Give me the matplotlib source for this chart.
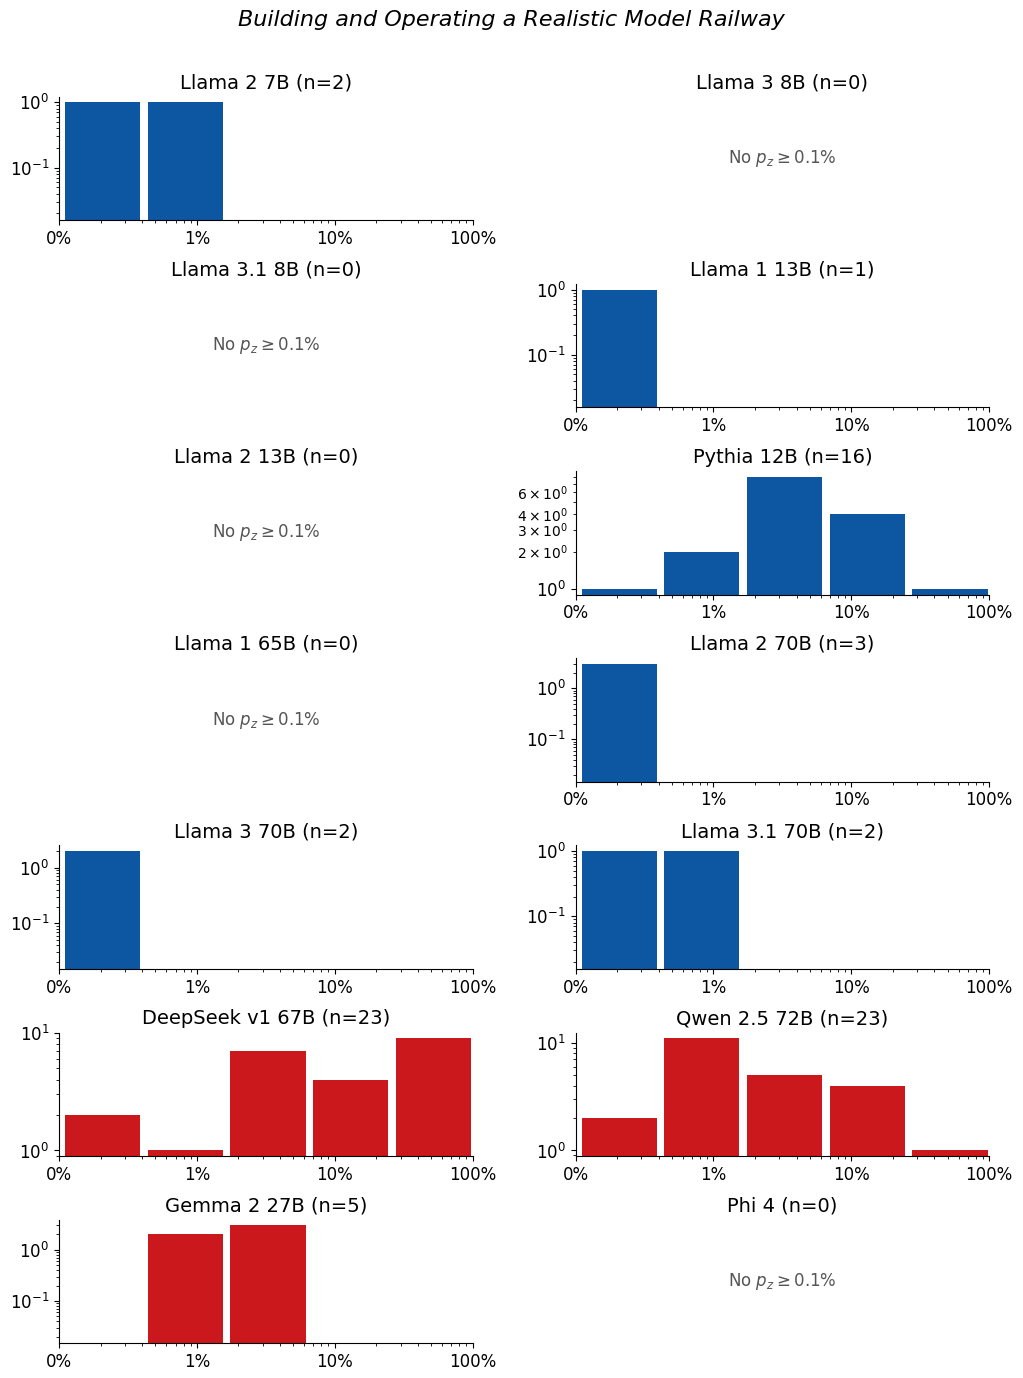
import numpy as np
import matplotlib
matplotlib.use("Agg")
import matplotlib.pyplot as plt
from matplotlib.ticker import FixedLocator, FixedFormatter

suptitle = "Building and Operating a Realistic Model Railway"
models = ["Llama 2 7B", "Llama 3 8B", "Llama 3.1 8B", "Llama 1 13B",
          "Llama 2 13B", "Pythia 12B", "Llama 1 65B", "Llama 2 70B",
          "Llama 3 70B", "Llama 3.1 70B", "DeepSeek v1 67B", "Qwen 2.5 72B",
          "Gemma 2 27B", "Phi 4"]
counts = [
    [1, 1, 0, 0, 0],
    [0, 0, 0, 0, 0],
    [0, 0, 0, 0, 0],
    [1, 0, 0, 0, 0],
    [0, 0, 0, 0, 0],
    [1, 2, 8, 4, 1],
    [0, 0, 0, 0, 0],
    [3, 0, 0, 0, 0],
    [2, 0, 0, 0, 0],
    [1, 1, 0, 0, 0],
    [2, 1, 7, 4, 9],
    [2, 11, 5, 4, 1],
    [0, 2, 3, 0, 0],
    [0, 0, 0, 0, 0],
]
families = ["meta", "meta", "meta", "meta", "meta", "eleuther", "meta", "meta",
            "meta", "meta", "other", "other", "other", "other"]
bin_edges = np.logspace(-3, 0, 6)
xtick_vals = [0.001, 0.01, 0.1, 1.0]
xtick_labels = ["0%", "1%", "10%", "100%"]

colors = {"meta": "#0d56a1", "eleuther": "#0d56a1", "other": "#cb181d"}
empty_floor = 10 ** -1.72  # lower y-limit used when some bins are empty

fig, axes = plt.subplots(7, 2, figsize=(10.23, 13.78), dpi=100)
fig.subplots_adjust(left=0.0577, right=0.967, top=0.9298, bottom=0.0252,
                    wspace=0.249, hspace=0.516)
fig.suptitle(suptitle, fontsize=16, fontstyle="italic", y=1 - 20 / 1378,
             va="center")

centers = np.sqrt(bin_edges[:-1] * bin_edges[1:])
for ax, name, c, fam in zip(axes.flat, models, counts, families):
    n = int(sum(c))
    ax.set_title(f"{name} (n={n})", fontsize=14)
    if n == 0:
        ax.axis("off")
        ax.text(0.5, 0.5, r"No $p_z \geq 0.1\%$", transform=ax.transAxes,
                ha="center", va="center", fontsize=12, color="#555555")
        continue
    ax.hist(centers, bins=bin_edges, weights=c, log=True, rwidth=0.93,
            color=colors[fam])
    ax.set_xscale("log")
    ax.set_xlim(bin_edges[0], bin_edges[-1])
    arr = np.array(c, dtype=float)
    lo = empty_floor if (arr == 0).any() else arr[arr > 0].min()
    hi = arr.max()
    llo, lhi = np.log10(lo), np.log10(hi)
    m = 0.05 * (lhi - llo)
    ax.set_ylim(10 ** (llo - m), 10 ** (lhi + m))
    ax.xaxis.set_major_locator(FixedLocator(xtick_vals))
    ax.xaxis.set_major_formatter(FixedFormatter(xtick_labels))
    ax.spines["top"].set_visible(False)
    ax.spines["right"].set_visible(False)
    ax.tick_params(which="major", labelsize=12)
    ax.tick_params(which="minor", labelsize=10)

fig.savefig("out.png", dpi=100)
